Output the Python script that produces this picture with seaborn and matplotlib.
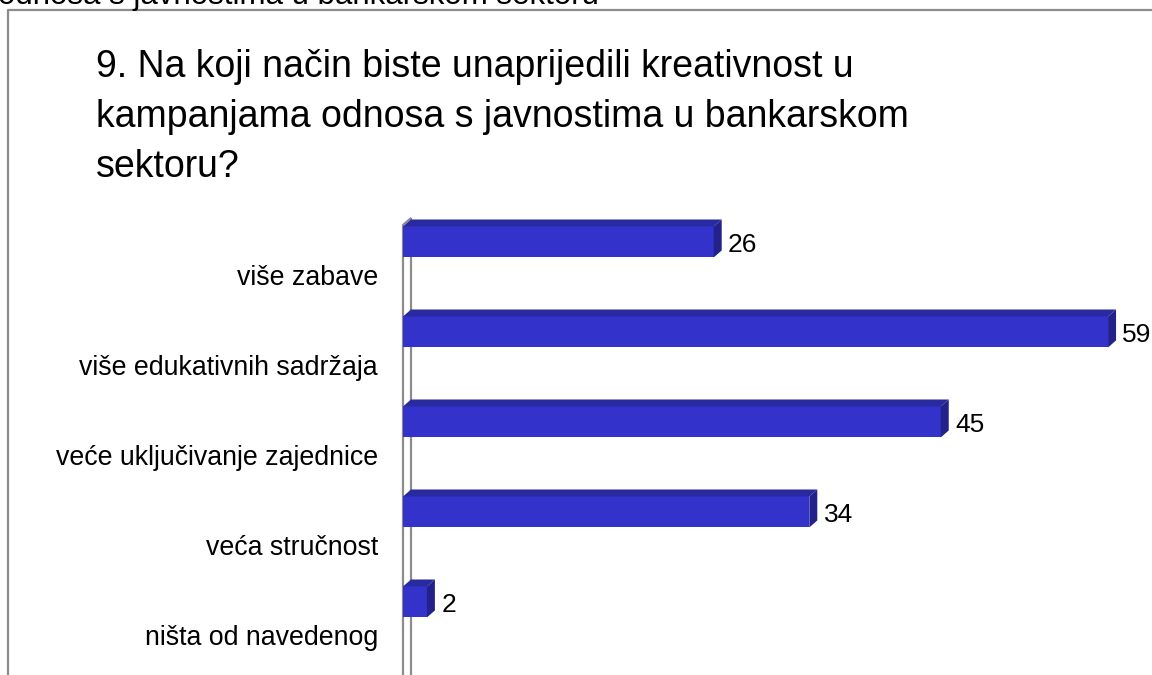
import seaborn as sns
import numpy as np
import pandas as pd
import matplotlib.pyplot as plt
from matplotlib.patches import Polygon
from matplotlib.lines import Line2D

sns.set_style('white')
plt.rcParams['font.family'] = ['Liberation Sans', 'DejaVu Sans']
plt.rcParams['text.color'] = 'black'
plt.rcParams['ytick.color'] = 'black'

categories = ['više zabave', 'više edukativnih sadržaja', 'veće uključivanje zajednice',
              'veća stručnost', 'ništa od navedenog']
values = [26, 59, 45, 34, 2]
title_lines = ['9. Na koji način biste unaprijedili kreativnost u',
               'kampanjama odnosa s javnostima u bankarskom',
               'sektoru?']
top_text = 'odnosa s javnostima u bankarskom sektoru'

df = pd.DataFrame({'kategorija': categories, 'broj': values})

W, H = 1152, 675
fig = plt.figure(figsize=(W / 100, H / 100), dpi=100)

# axes placed in pixel terms of the reference
px_per_unit = 11.95
x0_px = 403
xmax = 62
ax = fig.add_axes([x0_px / W, 0, xmax * px_per_unit / W, (H - 200) / H])

front = '#3333cc'
top_c = '#2a2aa0'
side_c = '#22228a'

sns.barplot(data=df, x='broj', y='kategorija', orient='h', color=front,
            saturation=1, width=0.344, ax=ax, zorder=3)
bars = list(ax.patches)

ax.set_xlim(0, xmax)
ax.set_ylim(4 + 40 / 90, -75 / 90)

dx = 8 / px_per_unit
dy = -7 / 90

# 3D wall on the left
wall_top = -0.555
wall_bot = 4.6
ax.add_patch(Polygon([(0, wall_top), (dx, wall_top + dy), (dx, wall_bot + dy), (0, wall_bot)],
                     closed=True, facecolor='white', edgecolor='#8c8c8c', lw=1.6,
                     clip_on=False, zorder=2))

for i, p in enumerate(bars):
    p.set_y(p.get_y() - 0.367)
    p.set_edgecolor('none')
    x1 = p.get_width()
    yt = p.get_y()
    yb = yt + p.get_height()
    ax.add_patch(Polygon([(0, yt), (x1, yt), (x1 + dx, yt + dy), (dx, yt + dy)],
                         closed=True, facecolor=top_c, edgecolor='none', zorder=3, clip_on=False))
    ax.add_patch(Polygon([(x1, yt), (x1, yb), (x1 + dx, yb + dy), (x1 + dx, yt + dy)],
                         closed=True, facecolor=side_c, edgecolor='none', zorder=3, clip_on=False))
    ax.text(x1 + 1.2, i - 0.252, str(values[i]), fontsize=19, va='baseline', ha='left',
            color='black', clip_on=False)

ax.set_xlabel('')
ax.set_ylabel('')
ax.set_xticks([])
ax.tick_params(axis='y', length=0, pad=18, labelsize=19.3, labelcolor='black')
for s in ax.spines.values():
    s.set_visible(False)

# frame of the chart area
fig.add_artist(Line2D([8 / W, 8 / W, 1.0], [0, 1 - 10 / H, 1 - 10 / H], color='#8c8c8c', lw=1.6))

for k, line in enumerate(title_lines):
    fig.text(96 / W, 1 - (77 + 50 * k) / H, line, fontsize=27, va='baseline', ha='left')
fig.text(-2 / W, 1 - 4 / H, top_text, fontsize=22.5, va='baseline', ha='left')

fig.savefig('out.png', dpi=100)
